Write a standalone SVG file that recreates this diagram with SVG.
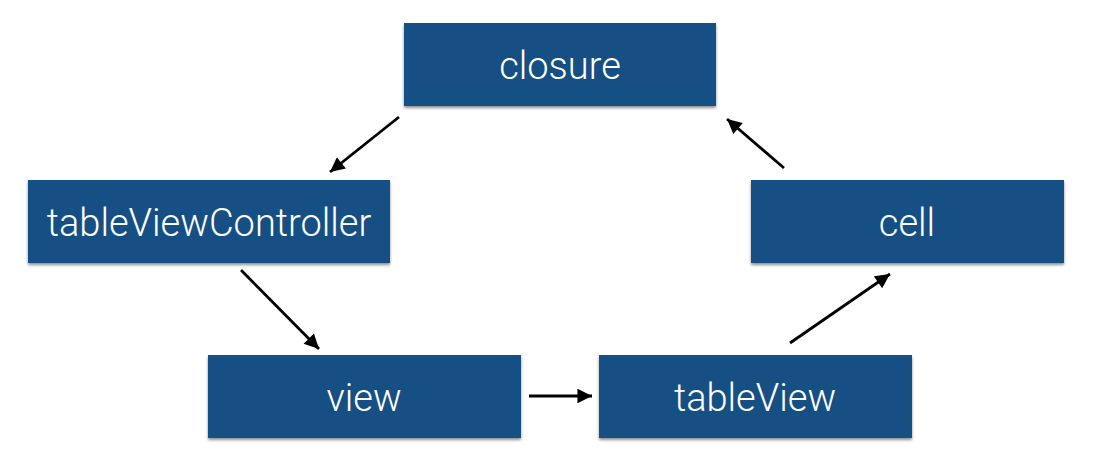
<svg xmlns="http://www.w3.org/2000/svg" width="1094" height="466" viewBox="0 0 1094 466">
<defs>
<filter id="sh" x="-5%" y="-10%" width="110%" height="130%">
<feGaussianBlur in="SourceAlpha" stdDeviation="1.5"/>
<feOffset dy="2" result="b"/>
<feComponentTransfer><feFuncA type="linear" slope="0.45"/></feComponentTransfer>
<feMerge><feMergeNode/><feMergeNode in="SourceGraphic"/></feMerge>
</filter>
<marker id="ah" viewBox="0 0 10 10" refX="10" refY="5" markerWidth="6" markerHeight="5.2" markerUnits="strokeWidth" orient="auto">
<path d="M0,0 L10,5 L0,10 Z" fill="#000"/>
</marker>
</defs>
<style>
.box{fill:#135083;filter:url(#sh)}
.lbl{font-family:Roboto,"Liberation Sans",sans-serif;font-weight:300;font-size:38px;fill:#fff;text-anchor:middle}
.edge{stroke:#000;stroke-width:2.8;fill:none;marker-end:url(#ah)}
</style>
<rect width="1094" height="466" fill="#fff"/>
<g id="closure"><rect class="box" x="404" y="23" width="312" height="83"/><text class="lbl" x="560" y="79">closure</text></g>
<g id="tableViewController"><rect class="box" x="28" y="180" width="362" height="83"/><text class="lbl" x="209" y="236">tableViewController</text></g>
<g id="cell"><rect class="box" x="751" y="180" width="313" height="83"/><text class="lbl" x="907" y="236">cell</text></g>
<g id="view"><rect class="box" x="208" y="355" width="313" height="83"/><text class="lbl" x="364" y="411">view</text></g>
<g id="tableView"><rect class="box" x="599" y="355" width="313" height="83"/><text class="lbl" x="755" y="411">tableView</text></g>
<g id="connectors">
<line class="edge" x1="399" y1="117" x2="330" y2="172"/>
<line class="edge" x1="241" y1="270" x2="319" y2="349"/>
<line class="edge" x1="529" y1="396" x2="592" y2="396"/>
<line class="edge" x1="790" y1="343" x2="890" y2="274"/>
<line class="edge" x1="784" y1="168" x2="727" y2="119"/>
</g>
</svg>
